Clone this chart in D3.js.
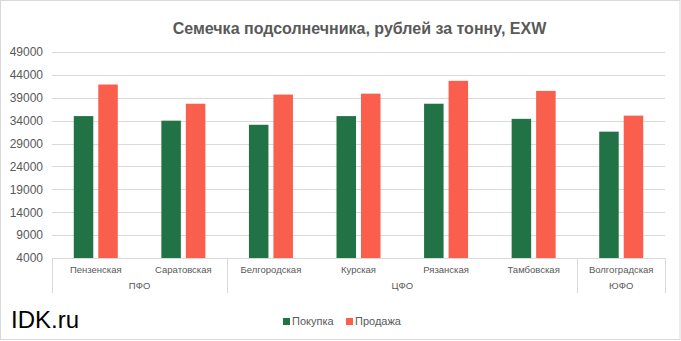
<!DOCTYPE html>
<html>
<head>
<meta charset="utf-8">
<script src="https://cdn.jsdelivr.net/npm/d3@7"></script>
<style>
  html, body { margin: 0; padding: 0; background: #fff; }
  svg { display: block; font-family: Arial, "Liberation Sans", sans-serif; }
</style>
</head>
<body>
<svg id="chart" width="681" height="341"></svg>
<script>
const title = "Семечка подсолнечника, рублей за тонну, EXW";
const categories = ["Пензенская", "Саратовская", "Белгородская", "Курская", "Рязанская", "Тамбовская", "Волгоградская"];
const groupNames = ["ПФО", "ЦФО", "ЮФО"];
const groupSizes = [2, 4, 1];
const seriesNames = ["Покупка", "Продажа"];
const purchase = [35000, 34000, 33100, 35000, 37700, 34400, 31600];
const sale = [41900, 37700, 39700, 39900, 42700, 40500, 35100];
const yTicks = [4000, 9000, 14000, 19000, 24000, 29000, 34000, 39000, 44000, 49000];
const colors = ["#217346", "#FA5E4D"];

(function () {
const svg = d3.select("#chart");
const W = 681, H = 341;
const pLeft = 52, pRight = 665, pTop = 52, pBottom = 258;
const textColor = "#595959", gridColor = "#d9d9d9";

// border
svg.append("rect").attr("x", 0.5).attr("y", 0.5).attr("width", W - 1.5).attr("height", H - 2)
  .attr("fill", "#fff").attr("stroke", gridColor);

const y = d3.scaleLinear().domain([4000, 49000]).range([pBottom, pTop]);
const x0 = d3.scaleBand().domain(categories).range([pLeft, pRight]).padding(0);
const x1 = d3.scaleBand().domain(seriesNames).range([0, 44]).paddingInner(0.204);

// gridlines
const yAxis = d3.axisLeft(y).tickValues(yTicks).tickSize(-(pRight - pLeft)).tickFormat(d3.format("d")).tickPadding(9);
const gy = svg.append("g").attr("transform", `translate(${pLeft},0)`).call(yAxis);
gy.select(".domain").remove();
gy.selectAll(".tick line").attr("stroke", gridColor).attr("shape-rendering", "crispEdges");
gy.selectAll(".tick text").attr("fill", textColor).attr("font-size", 12).attr("font-family", "Arial, 'Liberation Sans', sans-serif");

// bars
const series = [purchase, sale];
series.forEach((vals, si) => {
  svg.append("g").selectAll("rect").data(vals).join("rect")
    .attr("x", (d, i) => x0(categories[i]) + x0.bandwidth() / 2 - 22 + x1(seriesNames[si]))
    .attr("width", x1.bandwidth())
    .attr("y", d => y(d))
    .attr("height", d => y(4000) - y(d))
    .attr("fill", colors[si]);
});

// category axis
const gx = svg.append("g");
gx.append("line").attr("x1", pLeft).attr("x2", pRight).attr("y1", pBottom + 0.5).attr("y2", pBottom + 0.5)
  .attr("stroke", gridColor);
gx.selectAll("text.cat").data(categories).join("text").attr("class", "cat")
  .attr("x", d => x0(d) + x0.bandwidth() / 2).attr("y", 270)
  .attr("dy", "0.35em").attr("text-anchor", "middle")
  .attr("font-size", 9.5).attr("fill", textColor).text(d => d);

// group separators and labels
let idx = 0;
const bounds = [0];
groupSizes.forEach(s => { idx += s; bounds.push(idx); });
bounds.forEach(b => {
  const xx = b < categories.length ? x0(categories[b]) : pRight;
  gx.append("line").attr("x1", Math.round(xx) + 0.5).attr("x2", Math.round(xx) + 0.5)
    .attr("y1", pBottom).attr("y2", 293).attr("stroke", gridColor);
});
groupNames.forEach((g, i) => {
  const a = x0(categories[bounds[i]]);
  const b = bounds[i + 1] < categories.length ? x0(categories[bounds[i + 1]]) : pRight;
  gx.append("text").attr("x", (a + b) / 2).attr("y", 286).attr("dy", "0.35em")
    .attr("text-anchor", "middle").attr("font-size", 9.5).attr("fill", textColor).text(g);
});

// title
svg.append("text").attr("x", (pLeft + pRight) / 2 + 1).attr("y", 34)
  .attr("text-anchor", "middle").attr("font-size", 16).attr("font-weight", "bold")
  .attr("fill", textColor).text(title);

// legend
const legX = [283, 346];
seriesNames.forEach((s, i) => {
  svg.append("rect").attr("x", legX[i]).attr("y", 318).attr("width", 7).attr("height", 7).attr("fill", colors[i]);
  svg.append("text").attr("x", legX[i] + 9).attr("y", 321.5).attr("dy", "0.35em")
    .attr("font-size", 11).attr("fill", textColor).text(s);
});

// watermark
svg.append("text").attr("x", 11).attr("y", 328).attr("font-size", 24).attr("fill", "#000").text("IDK.ru");
})();
</script>
</body>
</html>
